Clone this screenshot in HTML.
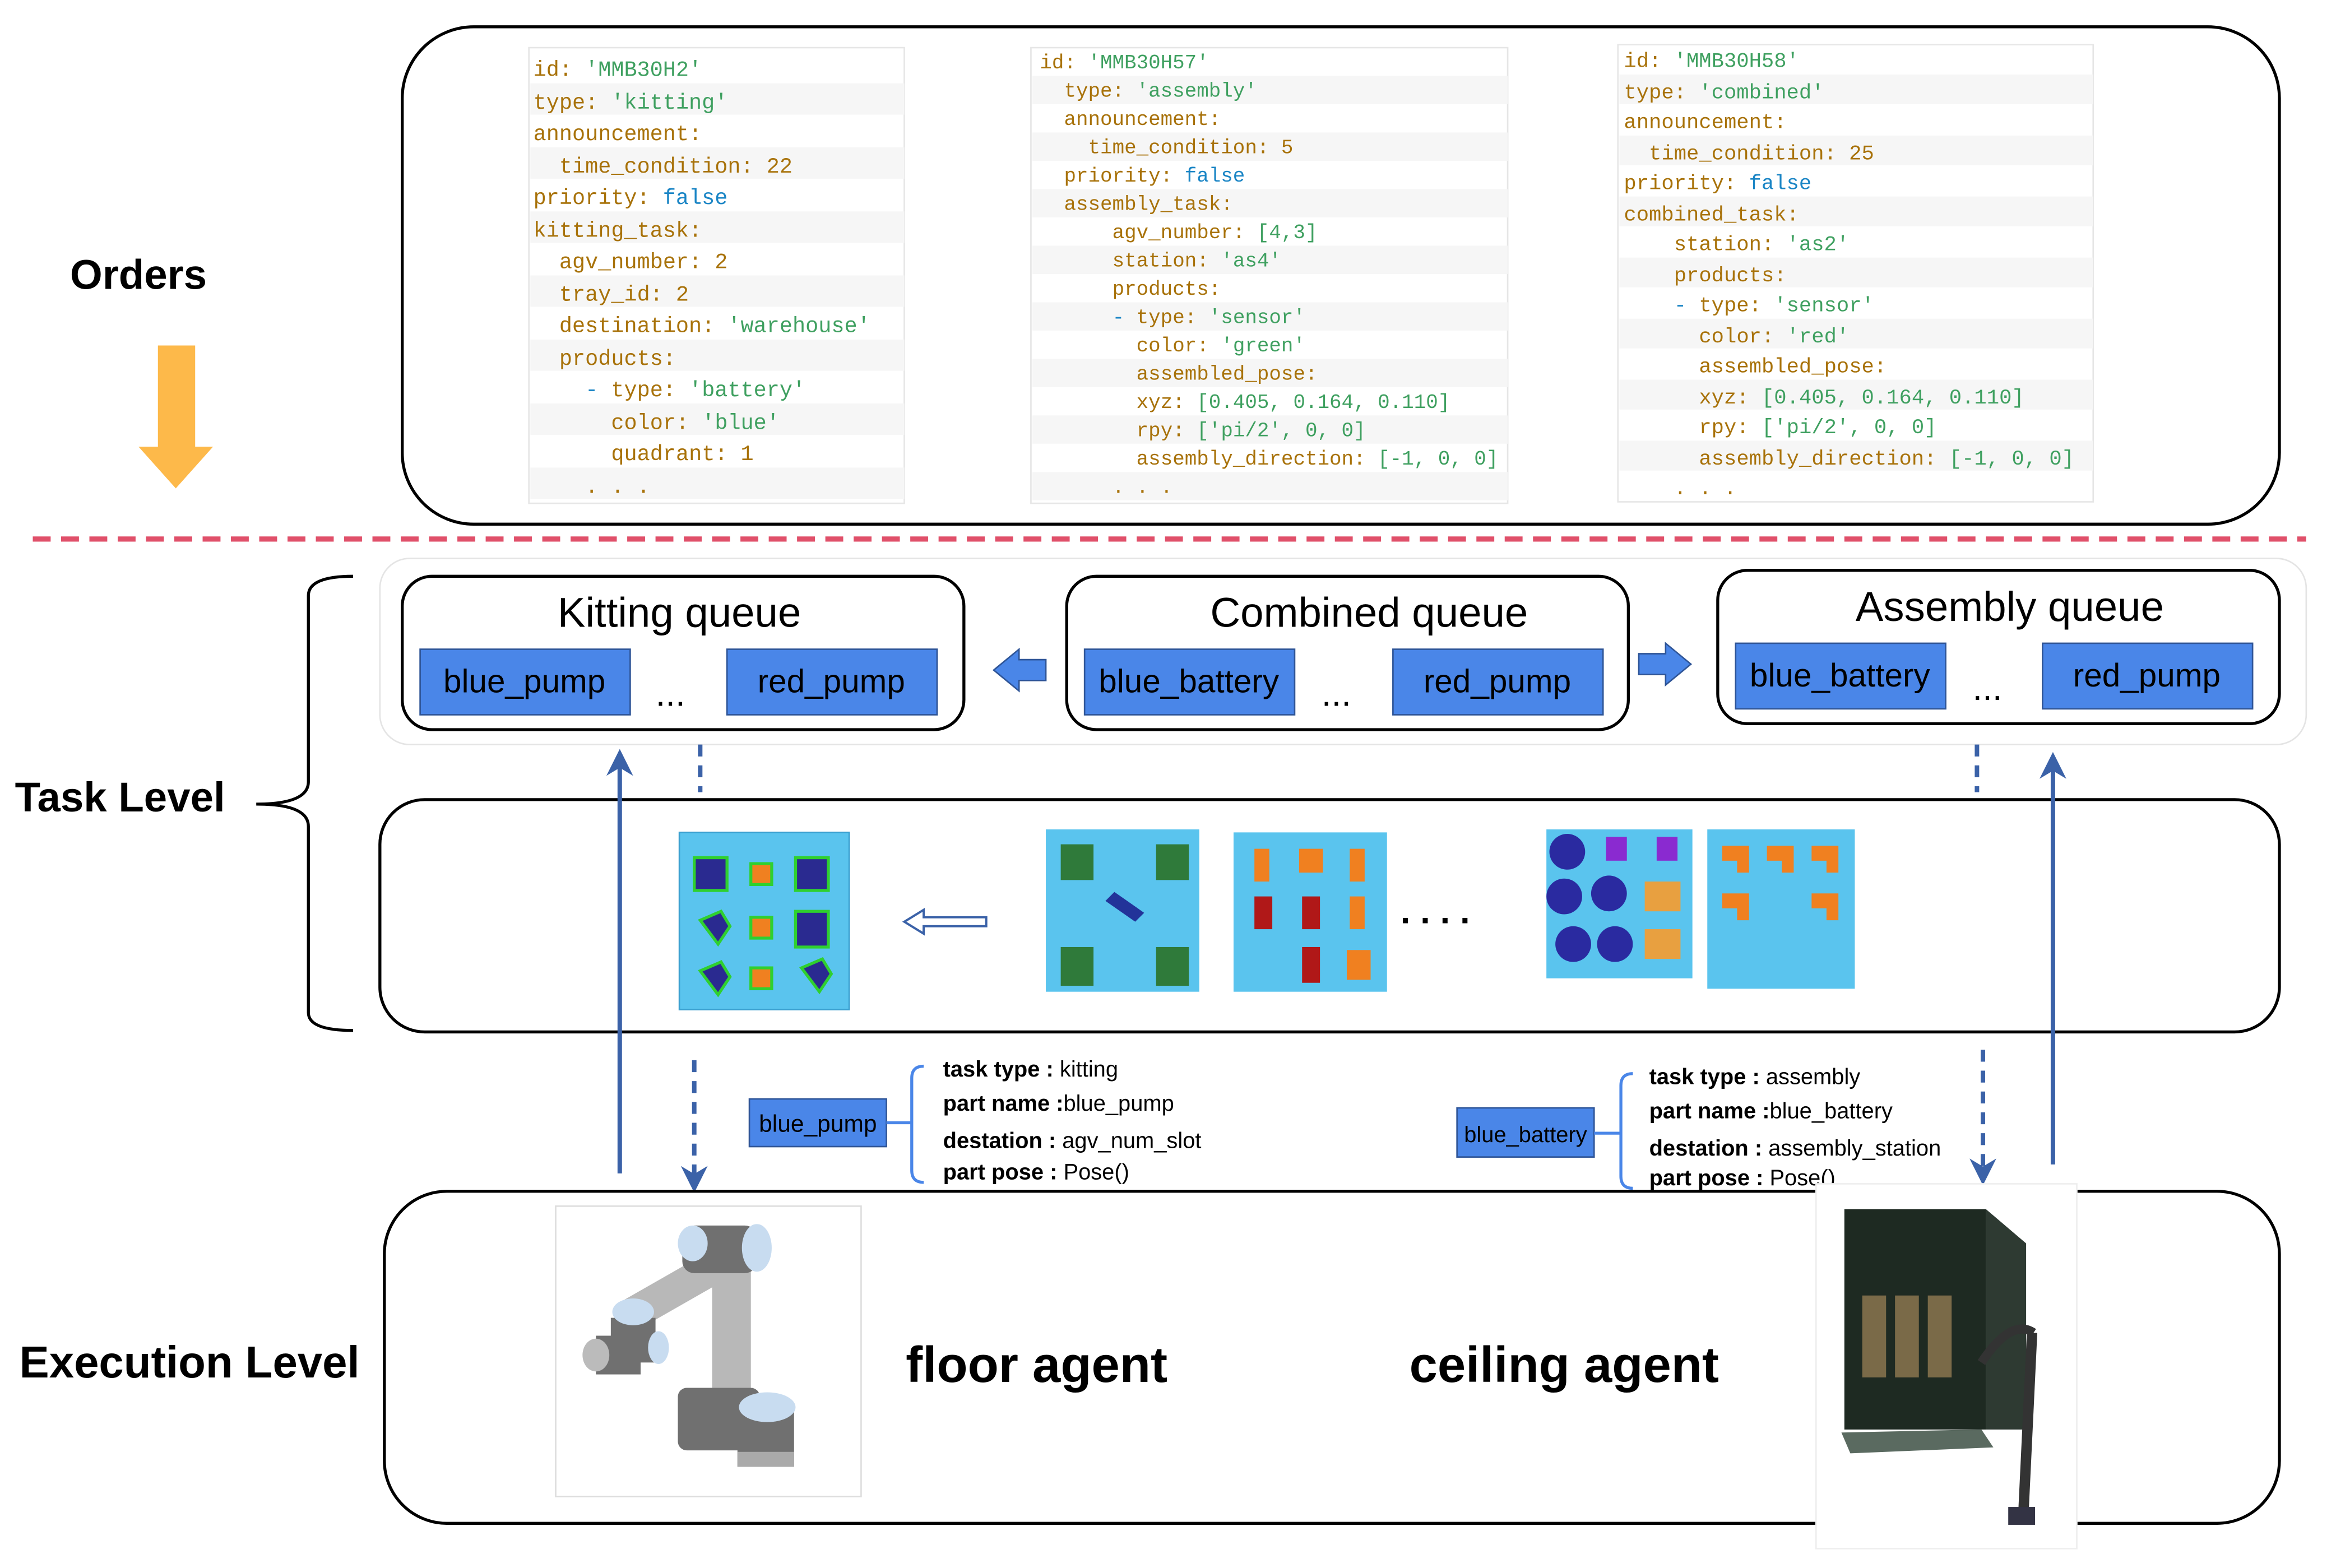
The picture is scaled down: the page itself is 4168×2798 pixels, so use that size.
<!DOCTYPE html>
<html><head><meta charset="utf-8"><style>html,body{margin:0;padding:0;background:#fff}svg{display:block}</style></head><body>
<svg xmlns="http://www.w3.org/2000/svg" width="4168" height="2798" viewBox="0 0 1568 1053" preserveAspectRatio="none">
<defs>
<marker id="ah" viewBox="0 0 10 10" refX="5" refY="5" markerWidth="6" markerHeight="6" orient="auto-start-reverse"><path d="M0,0 L10,5 L0,10 L3,5 z" fill="#3b62a8"/></marker>
</defs>
<rect width="1568" height="1053" fill="#fff"/>
<rect x="270" y="18" width="1260" height="334" rx="48" fill="none" stroke="#000" stroke-width="2"/>
<text x="47" y="194" font-family="Liberation Sans" font-weight="bold" font-size="28">Orders</text>
<path d="M106,232 H131 V300 H143 L118,328 L93,300 H106 Z" fill="#fdb94a"/>

<g font-family="Liberation Mono" font-size="14.5" fill="#a8720a">
<rect x="355" y="32" width="252" height="306" fill="#fff" stroke="#e6e6e6"/>
<rect x="356" y="56" width="251" height="21" fill="#f6f6f6"/><rect x="356" y="99" width="251" height="21" fill="#f6f6f6"/><rect x="356" y="142" width="251" height="21" fill="#f6f6f6"/><rect x="356" y="185" width="251" height="21" fill="#f6f6f6"/><rect x="356" y="228" width="251" height="21" fill="#f6f6f6"/><rect x="356" y="271" width="251" height="21" fill="#f6f6f6"/><rect x="356" y="314" width="251" height="21" fill="#f6f6f6"/>
<text x="358" y="51">id: <tspan fill="#3fa060">'MMB30H2'</tspan></text>
<text x="358" y="73">type: <tspan fill="#3fa060">'kitting'</tspan></text>
<text x="358" y="94">announcement:</text>
<text x="375.4" y="116">time_condition: 22</text>
<text x="358" y="137">priority: <tspan fill="#1a85c5">false</tspan></text>
<text x="358" y="159">kitting_task:</text>
<text x="375.4" y="180">agv_number: 2</text>
<text x="375.4" y="202">tray_id: 2</text>
<text x="375.4" y="223">destination: <tspan fill="#3fa060">'warehouse'</tspan></text>
<text x="375.4" y="245">products:</text>
<text x="392.8" y="266"><tspan fill="#1a85c5">-</tspan> type: <tspan fill="#3fa060">'battery'</tspan></text>
<text x="410.2" y="288">color: <tspan fill="#3fa060">'blue'</tspan></text>
<text x="410.2" y="309">quadrant: 1</text>
<text x="392.8" y="331">. . .</text>
</g>

<g font-family="Liberation Mono" font-size="13.5" fill="#a8720a">
<rect x="692" y="32" width="320" height="306" fill="#fff" stroke="#e6e6e6"/>
<rect x="693" y="51" width="319" height="19" fill="#f6f6f6"/><rect x="693" y="89" width="319" height="19" fill="#f6f6f6"/><rect x="693" y="127" width="319" height="19" fill="#f6f6f6"/><rect x="693" y="165" width="319" height="19" fill="#f6f6f6"/><rect x="693" y="203" width="319" height="19" fill="#f6f6f6"/><rect x="693" y="241" width="319" height="19" fill="#f6f6f6"/><rect x="693" y="279" width="319" height="19" fill="#f6f6f6"/><rect x="693" y="317" width="319" height="19" fill="#f6f6f6"/>
<text x="698" y="46">id: <tspan fill="#3fa060">'MMB30H57'</tspan></text>
<text x="714.2" y="65">type: <tspan fill="#3fa060">'assembly'</tspan></text>
<text x="714.2" y="84">announcement:</text>
<text x="730.4" y="103">time_condition: 5</text>
<text x="714.2" y="122">priority: <tspan fill="#1a85c5">false</tspan></text>
<text x="714.2" y="141">assembly_task:</text>
<text x="746.6" y="160">agv_number: <tspan fill="#3fa060">[4,3]</tspan></text>
<text x="746.6" y="179">station: <tspan fill="#3fa060">'as4'</tspan></text>
<text x="746.6" y="198">products:</text>
<text x="746.6" y="217"><tspan fill="#1a85c5">-</tspan> type: <tspan fill="#3fa060">'sensor'</tspan></text>
<text x="762.8" y="236">color: <tspan fill="#3fa060">'green'</tspan></text>
<text x="762.8" y="255">assembled_pose:</text>
<text x="762.8" y="274">xyz: <tspan fill="#3fa060">[0.405, 0.164, 0.110]</tspan></text>
<text x="762.8" y="293">rpy: <tspan fill="#3fa060">['pi/2', 0, 0]</tspan></text>
<text x="762.8" y="312">assembly_direction: <tspan fill="#3fa060">[-1, 0, 0]</tspan></text>
<text x="746.6" y="331">. . .</text>
</g>

<g font-family="Liberation Mono" font-size="14" fill="#a8720a">
<rect x="1086" y="30" width="319" height="307" fill="#fff" stroke="#e6e6e6"/>
<rect x="1087" y="50" width="318" height="20" fill="#f6f6f6"/><rect x="1087" y="91" width="318" height="20" fill="#f6f6f6"/><rect x="1087" y="132" width="318" height="20" fill="#f6f6f6"/><rect x="1087" y="173" width="318" height="20" fill="#f6f6f6"/><rect x="1087" y="214" width="318" height="20" fill="#f6f6f6"/><rect x="1087" y="255" width="318" height="20" fill="#f6f6f6"/><rect x="1087" y="296" width="318" height="20" fill="#f6f6f6"/>
<text x="1090" y="45">id: <tspan fill="#3fa060">'MMB30H58'</tspan></text>
<text x="1090" y="66">type: <tspan fill="#3fa060">'combined'</tspan></text>
<text x="1090" y="86">announcement:</text>
<text x="1106.8" y="107">time_condition: 25</text>
<text x="1090" y="127">priority: <tspan fill="#1a85c5">false</tspan></text>
<text x="1090" y="148">combined_task:</text>
<text x="1123.6" y="168">station: <tspan fill="#3fa060">'as2'</tspan></text>
<text x="1123.6" y="189">products:</text>
<text x="1123.6" y="209"><tspan fill="#1a85c5">-</tspan> type: <tspan fill="#3fa060">'sensor'</tspan></text>
<text x="1140.4" y="230">color: <tspan fill="#3fa060">'red'</tspan></text>
<text x="1140.4" y="250">assembled_pose:</text>
<text x="1140.4" y="271">xyz: <tspan fill="#3fa060">[0.405, 0.164, 0.110]</tspan></text>
<text x="1140.4" y="291">rpy: <tspan fill="#3fa060">['pi/2', 0, 0]</tspan></text>
<text x="1140.4" y="312">assembly_direction: <tspan fill="#3fa060">[-1, 0, 0]</tspan></text>
<text x="1123.6" y="332">. . .</text>
</g>

<line x1="22" y1="362" x2="1548" y2="362" stroke="#e0506a" stroke-width="3.5" stroke-dasharray="12,7"/>

<path d="M237,387 Q207,387 207,400 V525 Q207,540 172,540 Q207,540 207,555 V680 Q207,692 237,692" fill="none" stroke="#000" stroke-width="2"/>
<text x="10" y="545" font-family="Liberation Sans" font-weight="bold" font-size="28">Task Level</text>
<rect x="255" y="375" width="1293" height="125" rx="20" fill="none" stroke="#e4e4e4" stroke-width="1"/>

<g font-family="Liberation Sans" text-anchor="middle">
<rect x="270" y="387" width="377" height="103" rx="20" fill="#fff" stroke="#000" stroke-width="2"/>
<text x="456" y="421" font-size="28">Kitting queue</text>
<rect x="282" y="436" width="141" height="44" fill="#4a86e8" stroke="#2f5597"/><text x="352" y="465" font-size="22">blue_pump</text>
<text x="450" y="474" font-size="24">...</text>
<rect x="488" y="436" width="141" height="44" fill="#4a86e8" stroke="#2f5597"/><text x="558" y="465" font-size="22">red_pump</text>

<rect x="716" y="387" width="377" height="103" rx="20" fill="#fff" stroke="#000" stroke-width="2"/>
<text x="919" y="421" font-size="28">Combined queue</text>
<rect x="728" y="436" width="141" height="44" fill="#4a86e8" stroke="#2f5597"/><text x="798" y="465" font-size="22">blue_battery</text>
<text x="897" y="474" font-size="24">...</text>
<rect x="935" y="436" width="141" height="44" fill="#4a86e8" stroke="#2f5597"/><text x="1005" y="465" font-size="22">red_pump</text>

<rect x="1153" y="383" width="377" height="103" rx="20" fill="#fff" stroke="#000" stroke-width="2"/>
<text x="1349" y="417" font-size="28">Assembly queue</text>
<rect x="1165" y="432" width="141" height="44" fill="#4a86e8" stroke="#2f5597"/><text x="1235" y="461" font-size="22">blue_battery</text>
<text x="1334" y="470" font-size="24">...</text>
<rect x="1371" y="432" width="141" height="44" fill="#4a86e8" stroke="#2f5597"/><text x="1441" y="461" font-size="22">red_pump</text>
</g>
<path d="M667,450 L684,436 V443 H702 V457 H684 V464 Z" fill="#4a86e8" stroke="#2f5597"/>
<path d="M1135,446 L1118,432 V439 H1100 V453 H1118 V460 Z" fill="#4a86e8" stroke="#2f5597"/>

<rect x="255" y="537" width="1275" height="156" rx="30" fill="none" stroke="#000" stroke-width="2"/>
<rect x="456" y="559" width="114" height="119" fill="#5ac4ee" stroke="#3aa0d0"/>
<g fill="#2a2a90" stroke="#2fd02f" stroke-width="2">
<rect x="466" y="576" width="22" height="22"/><rect x="534" y="576" width="22" height="22"/><rect x="534" y="612" width="22" height="24"/>
<path d="M470,618 l14,-6 l6,10 l-8,12 z"/><path d="M470,652 l14,-6 l6,10 l-8,12 z"/><path d="M538,650 l14,-6 l6,10 l-8,12 z"/>
</g>
<g fill="#f08020" stroke="#2fd02f" stroke-width="2"><rect x="504" y="580" width="14" height="14"/><rect x="504" y="616" width="14" height="14"/><rect x="504" y="650" width="14" height="14"/></g>
<path d="M607,619 L620,611 V616 H662 V622 H620 V627 Z" fill="#fff" stroke="#3b62a8" stroke-width="1.5"/>
<rect x="702" y="557" width="103" height="109" fill="#5ac4ee"/>
<g fill="#2f7a3a"><rect x="712" y="567" width="22" height="24"/><rect x="776" y="567" width="22" height="24"/><rect x="712" y="636" width="22" height="26"/><rect x="776" y="636" width="22" height="26"/></g>
<path d="M742,605 l6,-6 l20,14 l-6,6 z" fill="#223399"/>
<rect x="828" y="559" width="103" height="107" fill="#5ac4ee"/>
<g fill="#f08020"><rect x="842" y="570" width="10" height="22"/><rect x="872" y="570" width="16" height="16"/><rect x="906" y="570" width="10" height="22"/><rect x="906" y="602" width="10" height="22"/><rect x="904" y="638" width="16" height="20"/></g>
<g fill="#b01818"><rect x="842" y="602" width="12" height="22"/><rect x="874" y="602" width="12" height="22"/><rect x="874" y="636" width="12" height="24"/></g>
<text x="940" y="620" font-family="Liberation Sans" font-size="24" font-weight="bold">. . . .</text>
<rect x="1038" y="557" width="98" height="100" fill="#5ac4ee"/>
<g fill="#2a2aa0"><circle cx="1052" cy="572" r="12"/><circle cx="1050" cy="602" r="12"/><circle cx="1080" cy="600" r="12"/><circle cx="1056" cy="634" r="12"/><circle cx="1084" cy="634" r="12"/></g>
<g fill="#8a2ad0"><rect x="1078" y="562" width="14" height="16"/><rect x="1112" y="562" width="14" height="16"/></g>
<g fill="#e8a040"><rect x="1104" y="592" width="24" height="20"/><rect x="1104" y="624" width="24" height="20"/></g>
<rect x="1146" y="557" width="99" height="107" fill="#5ac4ee"/>
<g fill="#f08020"><path d="M1156,568 h18 v18 h-8 v-8 h-10z"/><path d="M1186,568 h18 v18 h-8 v-8 h-10z"/><path d="M1216,568 h18 v18 h-8 v-8 h-10z"/><path d="M1156,600 h18 v18 h-8 v-8 h-10z"/><path d="M1216,600 h18 v18 h-8 v-8 h-10z"/></g>

<g stroke="#3b62a8" stroke-width="3" fill="none">
<line x1="416" y1="788" x2="416" y2="512" marker-end="url(#ah)"/>
<line x1="470" y1="500" x2="470" y2="532" stroke-dasharray="8,6"/>
<line x1="466" y1="712" x2="466" y2="792" stroke-dasharray="8,6" marker-end="url(#ah)"/>
<line x1="1327" y1="500" x2="1327" y2="532" stroke-dasharray="8,6"/>
<line x1="1331" y1="705" x2="1331" y2="787" stroke-dasharray="8,6" marker-end="url(#ah)"/>
<line x1="1378" y1="782" x2="1378" y2="514" marker-end="url(#ah)"/>
</g>

<g font-family="Liberation Sans" font-size="15">
<rect x="503" y="738" width="92" height="32" fill="#4a86e8" stroke="#2f5597"/>
<text x="549" y="760" text-anchor="middle" font-size="16">blue_pump</text>
<path d="M595,754 H612 M620,716 Q612,716 612,724 V786 Q612,794 620,794" fill="none" stroke="#4a86e8" stroke-width="2"/>
<text x="633" y="723"><tspan font-weight="bold">task type :</tspan> kitting</text>
<text x="633" y="746"><tspan font-weight="bold">part name :</tspan>blue_pump</text>
<text x="633" y="771"><tspan font-weight="bold">destation :</tspan> agv_num_slot</text>
<text x="633" y="792"><tspan font-weight="bold">part pose :</tspan> Pose()</text>

<rect x="978" y="744" width="92" height="33" fill="#4a86e8" stroke="#2f5597"/>
<text x="1024" y="767" text-anchor="middle" font-size="15">blue_battery</text>
<path d="M1070,761 H1088 M1096,721 Q1088,721 1088,729 V790 Q1088,798 1096,798" fill="none" stroke="#4a86e8" stroke-width="2"/>
<text x="1107" y="728"><tspan font-weight="bold">task type :</tspan> assembly</text>
<text x="1107" y="751"><tspan font-weight="bold">part name :</tspan>blue_battery</text>
<text x="1107" y="776"><tspan font-weight="bold">destation :</tspan> assembly_station</text>
<text x="1107" y="796"><tspan font-weight="bold">part pose :</tspan> Pose()</text>
</g>

<rect x="258" y="800" width="1272" height="223" rx="42" fill="none" stroke="#000" stroke-width="2"/>
<text x="13" y="925" font-family="Liberation Sans" font-weight="bold" font-size="30">Execution Level</text>
<text x="608" y="928" font-family="Liberation Sans" font-weight="bold" font-size="34">floor agent</text>
<text x="946" y="928" font-family="Liberation Sans" font-weight="bold" font-size="34">ceiling agent</text>

<rect x="373" y="810" width="205" height="195" fill="#fff" stroke="#ddd"/>
<g>
<line x1="420" y1="885" x2="490" y2="845" stroke="#b8b8b8" stroke-width="22"/>
<rect x="478" y="845" width="26" height="100" fill="#b8b8b8"/>
<rect x="458" y="823" width="50" height="32" rx="8" fill="#707070"/>
<ellipse cx="508" cy="838" rx="10" ry="16" fill="#c8dcf0"/>
<ellipse cx="465" cy="835" rx="10" ry="12" fill="#c8dcf0"/>
<rect x="410" y="885" width="30" height="30" fill="#707070"/>
<ellipse cx="425" cy="881" rx="14" ry="9" fill="#c8dcf0"/>
<rect x="400" y="897" width="30" height="26" fill="#707070"/>
<ellipse cx="400" cy="910" rx="9" ry="11" fill="#bbb"/>
<ellipse cx="442" cy="905" rx="7" ry="11" fill="#c8dcf0"/>
<rect x="455" y="932" width="55" height="42" rx="6" fill="#707070"/>
<rect x="495" y="945" width="38" height="40" fill="#707070"/>
<ellipse cx="515" cy="945" rx="19" ry="10" fill="#c8dcf0"/>
<rect x="495" y="975" width="38" height="10" fill="#aaa"/>
</g>

<rect x="1219" y="795" width="175" height="245" fill="#fff" stroke="#eee"/>
<rect x="1238" y="812" width="95" height="148" fill="#1e2a22"/>
<path d="M1333,812 L1360,835 V960 L1333,960 Z" fill="#2e3a32"/>
<g fill="#7a6a48"><rect x="1250" y="870" width="16" height="55"/><rect x="1272" y="870" width="16" height="55"/><rect x="1294" y="870" width="16" height="55"/></g>
<path d="M1236,962 L1330,960 L1338,972 L1242,976 Z" fill="#5a6a60"/>
<path d="M1330,915 Q1350,885 1365,895" fill="none" stroke="#333" stroke-width="6"/>
<line x1="1364" y1="895" x2="1358" y2="1020" stroke="#333" stroke-width="7"/>
<rect x="1348" y="1012" width="18" height="12" fill="#334"/>
</svg>
</body></html>
